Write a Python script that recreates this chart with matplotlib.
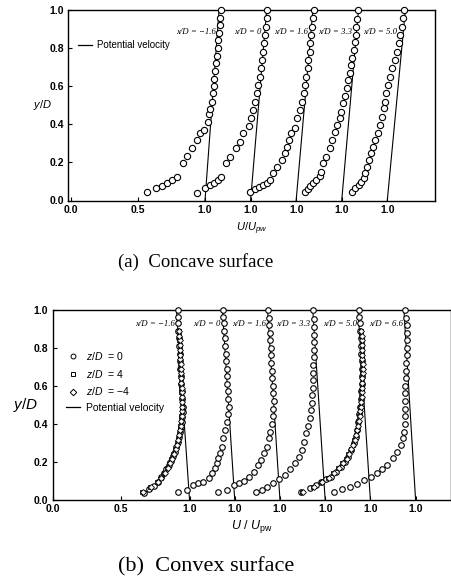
import matplotlib
matplotlib.use('Agg')
import matplotlib.pyplot as plt
from matplotlib.lines import Line2D

plt.rcParams['font.family'] = ['Liberation Sans', 'DejaVu Sans']
plt.rcParams['mathtext.fontset'] = 'custom'
plt.rcParams['mathtext.rm'] = 'Liberation Sans'
plt.rcParams['mathtext.it'] = 'Liberation Sans:italic'
plt.rcParams['mathtext.bf'] = 'Liberation Sans:bold'

# ---------------- (a) concave surface : z/D = 0 ----------------
cc_labels = ['x/D = \u22121.6', 'x/D = 0', 'x/D = 1.6', 'x/D = 3.3', 'x/D = 5.0']

cc_y_m16 = [0.043, 0.064, 0.078, 0.090, 0.108, 0.125, 0.195, 0.235, 0.274, 0.318, 0.353, 0.37,
            0.414, 0.454, 0.479, 0.519, 0.563, 0.60, 0.64, 0.68, 0.72, 0.76, 0.80, 0.84, 0.88,
            0.92, 0.96, 1.0]
cc_u_m16 = [0.565, 0.632, 0.677, 0.714, 0.751, 0.789, 0.834, 0.868, 0.90, 0.938, 0.963, 0.993,
            1.025, 1.03, 1.04, 1.05, 1.06, 1.065, 1.07, 1.077, 1.083, 1.088, 1.094, 1.10, 1.105,
            1.11, 1.115, 1.12]

cc_y_0 = [0.041, 0.064, 0.081, 0.09, 0.108, 0.125, 0.195, 0.23, 0.274, 0.309, 0.353, 0.391,
          0.431, 0.475, 0.519, 0.563, 0.606, 0.65, 0.694, 0.738, 0.781, 0.825, 0.869, 0.912,
          0.956, 1.0]
cc_u_0 = [0.597, 0.657, 0.694, 0.726, 0.756, 0.78, 0.82, 0.85, 0.888, 0.92, 0.945, 0.987,
          1.005, 1.017, 1.03, 1.045, 1.055, 1.07, 1.08, 1.087, 1.095, 1.10, 1.104, 1.112,
          1.119, 1.124]

cc_y_16 = [0.043, 0.06, 0.072, 0.081, 0.093, 0.108, 0.143, 0.177, 0.213, 0.248, 0.282, 0.318,
           0.353, 0.379, 0.431, 0.475, 0.519, 0.563, 0.606, 0.65, 0.694, 0.738, 0.781, 0.825,
           0.869, 0.912, 0.956, 1.0]
cc_u_16 = [0.657, 0.694, 0.726, 0.756, 0.781, 0.806, 0.83, 0.86, 0.893, 0.918, 0.935, 0.95,
           0.96, 0.993, 1.005, 1.03, 1.043, 1.055, 1.065, 1.075, 1.085, 1.092, 1.10, 1.107,
           1.113, 1.118, 1.123, 1.13]

cc_y_33 = [0.045, 0.06, 0.075, 0.09, 0.108, 0.129, 0.151, 0.195, 0.23, 0.274, 0.318, 0.361,
           0.396, 0.431, 0.466, 0.51, 0.55, 0.59, 0.63, 0.67, 0.71, 0.75, 0.79, 0.83, 0.87,
           0.91, 0.955, 1.0]
cc_u_33 = [0.724, 0.745, 0.766, 0.786, 0.811, 0.836, 0.848, 0.86, 0.886, 0.91, 0.928, 0.948,
           0.965, 0.985, 0.998, 1.01, 1.025, 1.04, 1.05, 1.06, 1.07, 1.08, 1.09, 1.097, 1.104,
           1.11, 1.116, 1.12]

cc_y_50 = [0.045, 0.064, 0.081, 0.099, 0.117, 0.143, 0.177, 0.213, 0.248, 0.282, 0.318, 0.353,
           0.396, 0.44, 0.484, 0.519, 0.563, 0.606, 0.65, 0.694, 0.738, 0.781, 0.825, 0.869,
           0.912, 0.956, 1.0]
cc_u_50 = [0.737, 0.761, 0.786, 0.804, 0.823, 0.836, 0.849, 0.861, 0.878, 0.893, 0.91, 0.928,
           0.948, 0.96, 0.972, 0.985, 0.99, 1.002, 1.017, 1.035, 1.06, 1.072, 1.085, 1.097,
           1.11, 1.117, 1.127]

# potential velocity at the wall and at y/D = 1
cc_pot_wall = [1.0, 1.0, 1.0, 1.0, 1.0]
cc_pot_top = [1.105, 1.12, 1.125, 1.125, 1.135]

# ---------------- (b) convex surface ----------------
cv_labels = ['x/D = \u22121.6', 'x/D = 0', 'x/D = 1.6', 'x/D = 3.3', 'x/D = 5.0', 'x/D = 6.6']

# z/D = 0 (circles)
cv_y_m16 = [0.036, 0.054, 0.071, 0.094, 0.117, 0.138, 0.159, 0.182, 0.205, 0.23, 0.252, 0.279,
            0.305, 0.331, 0.358, 0.384, 0.41, 0.437, 0.463, 0.49, 0.53, 0.57, 0.61, 0.65, 0.69,
            0.73, 0.77, 0.81, 0.85, 0.89, 0.93, 0.965, 1.0]
cv_u_m16 = [0.667, 0.703, 0.74, 0.769, 0.793, 0.813, 0.832, 0.849, 0.866, 0.881, 0.893, 0.905,
            0.915, 0.925, 0.932, 0.939, 0.944, 0.947, 0.949, 0.95, 0.948, 0.944, 0.94, 0.936,
            0.933, 0.93, 0.927, 0.924, 0.921, 0.919, 0.917, 0.916, 0.915]

cv_y_0 = [0.038, 0.05, 0.077, 0.085, 0.094, 0.112, 0.138, 0.165, 0.19, 0.217, 0.244, 0.279,
          0.323, 0.367, 0.41, 0.45, 0.49, 0.53, 0.57, 0.61, 0.65, 0.69, 0.73, 0.77, 0.81, 0.85,
          0.89, 0.93, 0.965, 1.0]
cv_u_0 = [0.589, 0.65, 0.699, 0.735, 0.772, 0.81, 0.832, 0.856, 0.869, 0.881, 0.893, 0.905,
          0.917, 0.93, 0.942, 0.952, 0.956, 0.953, 0.95, 0.947, 0.944, 0.941, 0.938, 0.934,
          0.931, 0.928, 0.924, 0.921, 0.918, 0.915]

cv_y_16 = [0.038, 0.05, 0.077, 0.085, 0.10, 0.12, 0.147, 0.182, 0.208, 0.244, 0.279, 0.323,
           0.358, 0.40, 0.44, 0.48, 0.52, 0.56, 0.60, 0.64, 0.68, 0.72, 0.76, 0.80, 0.84, 0.88,
           0.92, 0.96, 1.0]
cv_u_16 = [0.545, 0.613, 0.666, 0.70, 0.74, 0.776, 0.81, 0.837, 0.86, 0.885, 0.905, 0.92,
           0.93, 0.94, 0.948, 0.953, 0.954, 0.951, 0.948, 0.945, 0.942, 0.938, 0.935, 0.932,
           0.928, 0.925, 0.922, 0.918, 0.915]

cv_y_33 = [0.038, 0.05, 0.064, 0.085, 0.11, 0.13, 0.16, 0.19, 0.226, 0.26, 0.305, 0.349, 0.39,
           0.43, 0.47, 0.51, 0.55, 0.59, 0.63, 0.67, 0.71, 0.75, 0.79, 0.83, 0.87, 0.91, 0.955,
           1.0]
cv_u_33 = [0.496, 0.538, 0.574, 0.618, 0.66, 0.708, 0.745, 0.78, 0.806, 0.83, 0.847, 0.86,
           0.878, 0.89, 0.896, 0.902, 0.906, 0.91, 0.912, 0.914, 0.915, 0.916, 0.917, 0.918,
           0.918, 0.918, 0.917, 0.915]

cv_y_50 = [0.038, 0.059, 0.077, 0.094, 0.107, 0.12, 0.147, 0.173, 0.20, 0.226, 0.261, 0.297,
           0.331, 0.367, 0.41, 0.45, 0.49, 0.53, 0.57, 0.61, 0.65, 0.69, 0.73, 0.77, 0.81, 0.85,
           0.89, 0.93, 0.965, 1.0]
cv_u_50 = [0.491, 0.557, 0.606, 0.642, 0.679, 0.715, 0.752, 0.783, 0.812, 0.836, 0.861, 0.88,
           0.892, 0.90, 0.91, 0.918, 0.925, 0.93, 0.935, 0.937, 0.938, 0.938, 0.937, 0.935,
           0.933, 0.93, 0.927, 0.924, 0.92, 0.917]

cv_y_66 = [0.038, 0.054, 0.068, 0.082, 0.103, 0.12, 0.138, 0.159, 0.182, 0.217, 0.252, 0.288,
           0.323, 0.358, 0.40, 0.44, 0.48, 0.52, 0.56, 0.60, 0.64, 0.68, 0.72, 0.76, 0.80, 0.84,
           0.88, 0.92, 0.96, 1.0]
cv_u_66 = [0.404, 0.465, 0.52, 0.569, 0.623, 0.672, 0.715, 0.757, 0.793, 0.837, 0.866, 0.891,
           0.905, 0.915, 0.92, 0.922, 0.923, 0.924, 0.925, 0.926, 0.927, 0.929, 0.932, 0.935,
           0.937, 0.938, 0.937, 0.934, 0.928, 0.92]

# z/D = 4 (squares) and z/D = -4 (diamonds), measured at x/D = -1.6 and 5.0
cv_y_z = [0.04, 0.065, 0.09, 0.115, 0.14, 0.165, 0.19, 0.215, 0.24, 0.265, 0.29, 0.315, 0.34,
          0.365, 0.39, 0.415, 0.44, 0.465, 0.49, 0.515, 0.54, 0.565, 0.59, 0.615, 0.64, 0.665,
          0.69, 0.715, 0.74, 0.765, 0.79, 0.815, 0.84, 0.865, 0.89]
cv_sq_m16 = [0.655, 0.71, 0.762, 0.79, 0.813, 0.835, 0.852, 0.868, 0.882, 0.895, 0.906, 0.915,
             0.922, 0.928, 0.933, 0.937, 0.94, 0.942, 0.943, 0.943, 0.942, 0.941, 0.94, 0.938,
             0.937, 0.935, 0.934, 0.933, 0.931, 0.93, 0.929, 0.927, 0.926, 0.925, 0.923]
cv_dm_m16 = [0.66, 0.72, 0.768, 0.795, 0.818, 0.84, 0.856, 0.872, 0.886, 0.898, 0.909, 0.918,
             0.925, 0.931, 0.936, 0.94, 0.943, 0.945, 0.946, 0.946, 0.945, 0.944, 0.942, 0.941,
             0.939, 0.938, 0.936, 0.935, 0.933, 0.932, 0.93, 0.929, 0.928, 0.926, 0.925]
cv_sq_50 = [0.50, 0.585, 0.64, 0.69, 0.73, 0.765, 0.795, 0.82, 0.84, 0.857, 0.87, 0.882, 0.892,
            0.90, 0.907, 0.913, 0.918, 0.922, 0.926, 0.929, 0.932, 0.934, 0.936, 0.937, 0.938,
            0.939, 0.94, 0.94, 0.94, 0.939, 0.938, 0.937, 0.936, 0.934, 0.933]
cv_dm_50 = [0.505, 0.59, 0.648, 0.697, 0.737, 0.772, 0.80, 0.826, 0.846, 0.862, 0.875, 0.887,
            0.897, 0.905, 0.912, 0.918, 0.923, 0.927, 0.931, 0.934, 0.936, 0.938, 0.94, 0.941,
            0.942, 0.943, 0.943, 0.943, 0.942, 0.941, 0.94, 0.939, 0.938, 0.936, 0.935]

cv_pot_wall = [1.0, 1.0, 1.0, 1.0, 1.0, 1.0]
cv_pot_top = [0.905, 0.91, 0.91, 0.91, 0.91, 0.915]

# each profile is shifted to the right so that its U/Upw = 1.0 sits under its own tick
cc_shift = 0.34
cv_shift = 0.33

cc_profiles = [(cc_y_m16, cc_u_m16), (cc_y_0, cc_u_0), (cc_y_16, cc_u_16),
               (cc_y_33, cc_u_33), (cc_y_50, cc_u_50)]
cv_profiles = [(cv_y_m16, cv_u_m16), (cv_y_0, cv_u_0), (cv_y_16, cv_u_16),
               (cv_y_33, cv_u_33), (cv_y_50, cv_u_50), (cv_y_66, cv_u_66)]

fig = plt.figure(figsize=(4.51, 5.82), dpi=100)
ax1 = fig.add_axes([68 / 451, 1 - 200.5 / 582, 367 / 451, 190.5 / 582])
ax2 = fig.add_axes([52.5 / 451, 1 - 499.5 / 582, 398 / 451, 189.5 / 582])

circ = dict(ls='none', marker='o', ms=4.5, mfc='white', mec='black', mew=0.8, clip_on=False, zorder=3)

# ---- concave ----
for k, (yy, uu) in enumerate(cc_profiles):
    off = k * cc_shift
    ax1.plot([cc_pot_wall[k] + off, cc_pot_top[k] + off], [0, 1], color='black', lw=0.8, zorder=2)
    ax1.plot([u + off for u in uu], yy, **circ)
    ax1.annotate(cc_labels[k], xy=(uu[-4] + off, 0.886), xytext=(-2.5, 0), textcoords='offset points',
                 ha='right', va='center', fontsize=6.3, family='Liberation Serif', style='italic')

cc_ticks = [0.0, 0.5] + [1.0 + k * cc_shift for k in range(5)]
ax1.set_xticks(cc_ticks)
ax1.set_xticklabels(['0.0', '0.5'] + ['1.0'] * 5)
ax1.set_xlim(-0.022, 2.716)
ax1.set_ylim(0, 1.0)
ax1.set_yticks([0.0, 0.2, 0.4, 0.6, 0.8, 1.0])
ax1.set_yticklabels(['0.0', '0.2', '0.4', '0.6', '0.8', '1.0'])
ax1.set_ylabel('$y/D$', fontsize=8, rotation=0, labelpad=5, va='center')
ax1.set_xlabel(r'$\mathbf{\mathit{U/U}}_{\mathit{pw}}$', fontsize=8, labelpad=4)
ax1.legend([Line2D([], [], color='black', lw=0.9)], ['Potential velocity'],
           loc='center left', bbox_to_anchor=(0.028, 0.816), frameon=False, fontsize=7,
           handlelength=1.4, handletextpad=0.5, borderpad=0, borderaxespad=0)

# ---- convex ----
sq = dict(ls='none', marker='s', ms=3.2, mfc='white', mec='black', mew=0.6, zorder=3)
dm = dict(ls='none', marker='D', ms=3.0, mfc='white', mec='black', mew=0.6, zorder=3)
for k, (yy, uu) in enumerate(cv_profiles):
    off = k * cv_shift
    ax2.plot([cv_pot_wall[k] + off, cv_pot_top[k] + off], [0, 1], color='black', lw=0.8, zorder=2)
    ax2.plot([u + off for u in uu], yy, **dict(circ, ms=4.0))
    ax2.annotate(cv_labels[k], xy=(uu[-4] + off, 0.925), xytext=(-2.5, 0), textcoords='offset points',
                 ha='right', va='center', fontsize=6.3, family='Liberation Serif', style='italic')

ax2.plot(cv_sq_m16, cv_y_z, **sq)
ax2.plot(cv_dm_m16, cv_y_z, **dm)
ax2.plot([u + 4 * cv_shift for u in cv_sq_50], cv_y_z, **sq)
ax2.plot([u + 4 * cv_shift for u in cv_dm_50], cv_y_z, **dm)

cv_ticks = [0.0, 0.5] + [1.0 + k * cv_shift for k in range(6)]
ax2.set_xticks(cv_ticks)
ax2.set_xticklabels(['0.0', '0.5'] + ['1.0'] * 6)
ax2.set_xlim(0.0, 2.905)
ax2.set_ylim(0, 1.0)
ax2.set_yticks([0.0, 0.2, 0.4, 0.6, 0.8, 1.0])
ax2.set_yticklabels(['0.0', '0.2', '0.4', '0.6', '0.8', '1.0'])
ax2.set_ylabel('$y/D$', fontsize=11, rotation=0, labelpad=6, va='center')
ax2.set_xlabel(r'$U\ /\ U_{\rm pw}$', fontsize=9, labelpad=3)

h_c = Line2D([], [], ls='none', marker='o', ms=3.5, mfc='white', mec='black', mew=0.7)
h_s = Line2D([], [], ls='none', marker='s', ms=3.5, mfc='white', mec='black', mew=0.7)
h_d = Line2D([], [], ls='none', marker='D', ms=3.3, mfc='white', mec='black', mew=0.7)
h_l = Line2D([], [], color='black', lw=0.9)
ax2.legend([h_c, h_s, h_d, h_l],
           ['$z/D$  = 0', '$z/D$  = 4', '$z/D$  = \u22124', 'Potential velocity'],
           loc='center left', bbox_to_anchor=(0.035, 0.623), frameon=False, fontsize=7.5,
           handlelength=1.3, handletextpad=0.6, labelspacing=0.55, borderpad=0, borderaxespad=0)

for ax in (ax1, ax2):
    for s in ax.spines.values():
        s.set_linewidth(1.0)
    ax.tick_params(direction='in', length=3, width=0.8, labelsize=7.5, pad=3)
    for lab in ax.get_xticklabels() + ax.get_yticklabels():
        lab.set_fontweight('bold')

fig.text(118 / 451, 1 - 262 / 582, '(a)  Concave surface', ha='left', va='center',
         family='Liberation Serif', fontsize=13.5)
fig.text(118 / 451, 1 - 567 / 582, '(b)  Convex surface', ha='left', va='center',
         family='Liberation Serif', fontsize=16)

fig.savefig('out.png', dpi=100)
